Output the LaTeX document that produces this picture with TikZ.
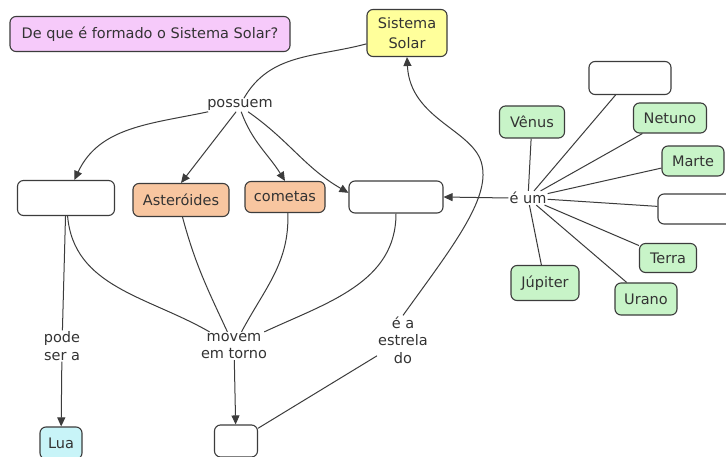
\documentclass[tikz,border=0pt]{standalone}
\usepackage{fontspec}
\setmainfont{DejaVu Sans}
\usetikzlibrary{positioning, arrows.meta}

\definecolor{cmPink}{RGB}{246,202,250}
\definecolor{cmYellow}{RGB}{255,255,155}
\definecolor{cmOrange}{RGB}{248,198,160}
\definecolor{cmGreen}{RGB}{200,244,200}
\definecolor{cmCyan}{RGB}{200,244,248}
\definecolor{cmLine}{RGB}{60,60,60}

\begin{document}
\begin{tikzpicture}[
		x=1pt, y=1pt,
		font=\fontsize{14.5}{17.5}\selectfont,
		% Style for the concept boxes
		cpt/.style={draw=cmLine, line width=1.1pt, rounded corners=6pt, inner sep=0pt,
			align=center, text=black!80},
		cpt-pink/.style={cpt, fill=cmPink},
		cpt-yellow/.style={cpt, fill=cmYellow},
		cpt-orange/.style={cpt, fill=cmOrange},
		cpt-green/.style={cpt, fill=cmGreen},
		cpt-cyan/.style={cpt, fill=cmCyan},
		cpt-empty/.style={cpt, fill=white},
		% Linking phrases & connectors
		lnk/.style={inner sep=1pt, align=center, text=black!80},
		conn/.style={draw=cmLine, line width=1pt},
		arr/.style={conn, -{Triangle[length=9pt, width=8pt]}}
	]
	\useasboundingbox[fill=white] (0,0) rectangle (726,-457);

	% ==============================================================================
	% Concepts
	% ==============================================================================
	\node[cpt-pink, minimum width=280pt, minimum height=35pt] (quest) at (150,-34) {De que é formado o Sistema Solar?};
	\node[cpt-yellow, minimum width=80pt, minimum height=47pt] (sol) at (407,-33) {Sistema\\[2pt]Solar};

	\node[cpt-empty, minimum width=97pt, minimum height=35pt] (emptyA) at (66,-198) {};
	\node[cpt-orange, minimum width=96pt, minimum height=33pt] (ast) at (181,-200) {Asteróides};
	\node[cpt-orange, minimum width=80pt, minimum height=31pt] (com) at (285,-197) {cometas};
	\node[cpt-empty, minimum width=94pt, minimum height=32pt] (emptyB) at (396,-197) {};

	% Planets round "e um"
	\node[cpt-empty, minimum width=82pt, minimum height=33pt] (emptyC) at (630,-78) {};
	\node[cpt-green, minimum width=65pt, minimum height=32pt] (ven) at (532,-122) {Vênus};
	\node[cpt-green, minimum width=73pt, minimum height=30pt] (net) at (670,-118) {Netuno};
	\node[cpt-green, minimum width=62pt, minimum height=30pt] (mar) at (693,-161) {Marte};
	\node[cpt-empty, minimum width=80pt, minimum height=30pt] (emptyD) at (698,-209) {};
	\node[cpt-green, minimum width=57pt, minimum height=29pt] (ter) at (668,-258) {Terra};
	\node[cpt-green, minimum width=68pt, minimum height=35pt] (jup) at (545,-283) {Júpiter};
	\node[cpt-green, minimum width=62pt, minimum height=32pt] (ura) at (646,-299) {Urano};

	\node[cpt-cyan, minimum width=42pt, minimum height=32pt] (lua) at (61,-443) {Lua};
	\node[cpt-empty, minimum width=43pt, minimum height=32pt] (emptyE) at (236,-441) {};

	% ==============================================================================
	% Linking phrases
	% ==============================================================================
	\node[lnk] (possuem) at (240,-105) {possuem};
	\node[lnk] (eum) at (528,-198) {é um};
	\node[lnk] (pode) at (62,-346) {pode\\ser a};
	\node[lnk] (movem) at (234,-346) {movem\\em torno};
	\node[lnk] (estrela) at (403,-340) {é a\\estrela\\do};

	% ==============================================================================
	% Connectors
	% ==============================================================================
	\draw[conn] (sol.195) to[out=195, in=60] (possuem);
	\draw[arr] (possuem) to[out=192, in=65] (emptyA);
	\draw[arr] (possuem.-120) -- (ast.north);
	\draw[arr] (possuem.-80) to[out=-70, in=122] (com.north);
	\draw[arr] (possuem.-40) to[out=-35, in=150] (emptyB.175);

	\draw[arr] (eum.west) -- (emptyB.east);
	\foreach \p in {emptyC, ven, net, mar, emptyD, ter, ura, jup}
		\draw[conn] (eum) -- (\p);

	\draw[conn] (emptyA) -- (pode);
	\draw[arr] (pode) -- (lua);

	\draw[conn] (emptyA.-85) to[out=-85, in=150] (movem);
	\draw[conn] (ast.-85) to[out=-75, in=115] (movem);
	\draw[conn] (com.-80) to[out=-88, in=62] (movem);
	\draw[conn] (emptyB) to[out=-90, in=25] (movem);
	\draw[arr] (movem) -- (emptyE);

	\draw[conn] (emptyE.30) -- (estrela);
	\draw[arr] (estrela.north) .. controls (450,-250) and (490,-200) .. (482,-165)
		.. controls (475,-130) and (410,-120) .. (sol.south);
\end{tikzpicture}
\end{document}
